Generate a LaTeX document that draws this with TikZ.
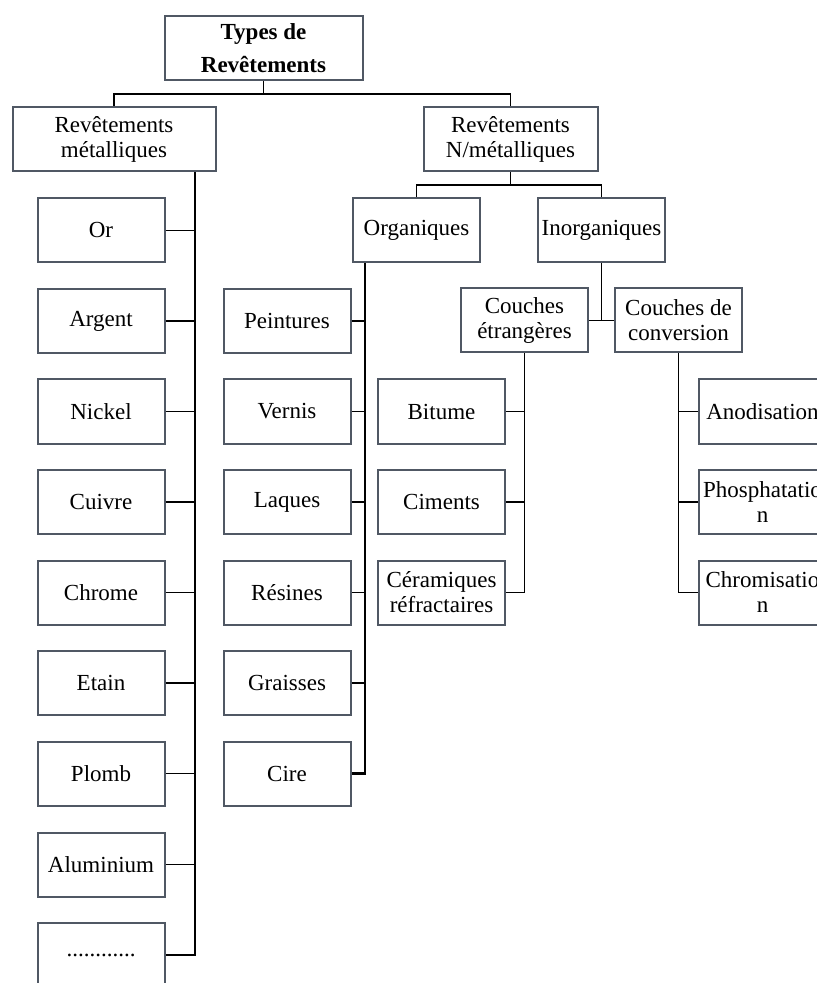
\documentclass[tikz,border=0pt]{standalone}
\usepackage{fontspec}
\setmainfont{Liberation Serif}
\usetikzlibrary{positioning, calc}
\definecolor{boxgray}{RGB}{80,88,100}

\begin{document}
\begin{tikzpicture}[
    x=0.5pt, y=-0.5pt,
    box/.style={rectangle, draw=boxgray, line width=1pt, fill=white, minimum width=63.5pt, minimum height=32pt, align=center, inner sep=1pt, font=\fontsize{11.5}{12.5}\selectfont},
    link/.style={draw=black, line width=0.9pt},
    spine/.style={draw=black, line width=1.2pt}
]
\useasboundingbox (0,0) rectangle (817,983);

% Root and first level
\node[box, minimum width=99pt, font=\fontsize{11.5}{16.5}\selectfont\bfseries] (T) at (263.5,48.5) {Types de\\Revêtements};
\node[box, minimum width=101.5pt] (M) at (114,139.5) {Revêtements\\métalliques};
\node[box, minimum width=87pt] (N) at (510.5,139.5) {Revêtements\\N/métalliques};

% Non metallic sub-levels
\node[box] (O) at (416.5,230.5) {Organiques};
\node[box] (I) at (601.5,230.5) {Inorganiques};
\node[box] (CE) at (524.5,320.5) {Couches\\étrangères};
\node[box] (CC) at (678.5,320.5) {Couches de\\conversion};

% Metallic coatings
\node[box] (M1) at (101,230.5) {Or};
\node[box] (M2) at (101,321) {Argent};
\node[box] (M3) at (101,411.5) {Nickel};
\node[box] (M4) at (101,502) {Cuivre};
\node[box] (M5) at (101,592.5) {Chrome};
\node[box] (M6) at (101,683) {Etain};
\node[box] (M7) at (101,773.5) {Plomb};
\node[box] (M8) at (101,864.5) {Aluminium};
\node[box] (M9) at (101,955) {............};

% Organic coatings
\node[box] (O1) at (287,321) {Peintures};
\node[box] (O2) at (287,411.5) {Vernis};
\node[box] (O3) at (287,502) {Laques};
\node[box] (O4) at (287,592.5) {Résines};
\node[box] (O5) at (287,683) {Graisses};
\node[box] (O6) at (287,773.5) {Cire};

% Foreign layers
\node[box] (E1) at (441.5,411.5) {Bitume};
\node[box] (E2) at (441.5,502) {Ciments};
\node[box] (E3) at (441.5,592.5) {Céramiques\\réfractaires};

% Conversion layers
\node[box] (C1) at (762.5,411.5) {Anodisation};
\node[box] (C2) at (762.5,502) {Phosphatatio\\n};
\node[box] (C3) at (762.5,592.5) {Chromisatio\\n};

% Upper connectors
\coordinate (j0) at (263.5,94);
\coordinate (j1) at (510.5,185);
\draw[link] (T) -- (j0);
\draw[link] (j0) -| (M);
\draw[link] (j0) -| (N);
\draw[link] (N) -- (j1);
\draw[link] (j1) -| (O);
\draw[link] (j1) -| (I);
\draw[link] (I) -- (I |- CE);
\draw[link] (CE) -- (CC);

% Metallic spine
\coordinate (ms) at (195,172);
\draw[spine] (ms) |- (M9);
\draw[link] (M1) -- (M1 -| ms);
\draw[link] (M2) -- (M2 -| ms);
\draw[link] (M3) -- (M3 -| ms);
\draw[link] (M4) -- (M4 -| ms);
\draw[link] (M5) -- (M5 -| ms);
\draw[link] (M6) -- (M6 -| ms);
\draw[link] (M7) -- (M7 -| ms);
\draw[link] (M8) -- (M8 -| ms);

% Organic spine
\coordinate (os) at (365,263);
\draw[spine] (os) |- (O6);
\draw[link] (O1) -- (O1 -| os);
\draw[link] (O2) -- (O2 -| os);
\draw[link] (O3) -- (O3 -| os);
\draw[link] (O4) -- (O4 -| os);
\draw[link] (O5) -- (O5 -| os);

% Foreign layers spine
\draw[link] (CE) |- (E3);
\draw[link] (E1) -- (E1 -| CE);
\draw[link] (E2) -- (E2 -| CE);

% Conversion spine
\draw[link] (CC) |- (C3);
\draw[link] (C1) -- (C1 -| CC);
\draw[link] (C2) -- (C2 -| CC);
\end{tikzpicture}
\end{document}
